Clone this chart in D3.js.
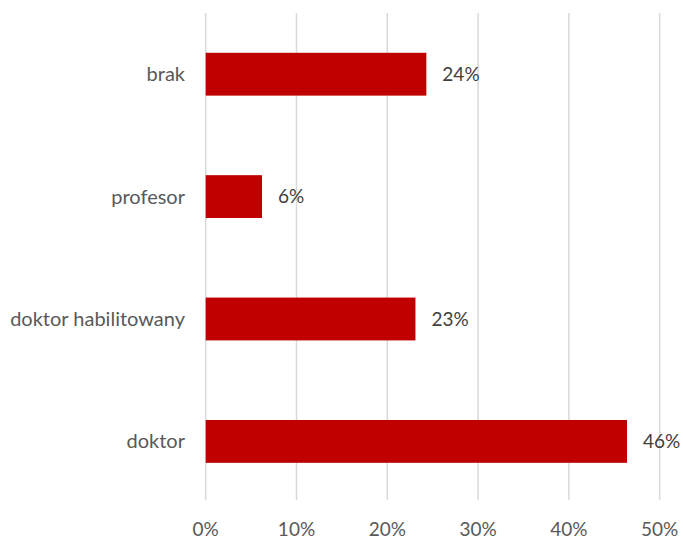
<!DOCTYPE html>
<html><head><meta charset="utf-8">
<script src="https://cdn.jsdelivr.net/npm/d3@7"></script>
<style>body{margin:0;background:#fff}svg{display:block}</style>
</head><body>
<svg id="c" width="683" height="539"></svg>
<script>
const categories = ["brak", "profesor", "doktor habilitowany", "doktor"];
const values = [0.243, 0.062, 0.231, 0.464];
const valueLabels = ["24%", "6%", "23%", "46%"];
const ticks = [0, 0.1, 0.2, 0.3, 0.4, 0.5];
const tickLabels = ["0%", "10%", "20%", "30%", "40%", "50%"];

const svg = d3.select("#c");
const font = "Lato, sans-serif";
const fs = 19;
const x = d3.scaleLinear().domain([0, 0.5]).range([205.7, 659.7]);
const y = d3.scaleBand().domain(categories).range([13, 502.6]).paddingInner(0.65).paddingOuter(0.325);

svg.append("g").selectAll("line").data(ticks).join("line")
  .attr("x1", d => x(d)).attr("x2", d => x(d))
  .attr("y1", 13).attr("y2", 500)
  .attr("stroke", "#d9d9d9").attr("stroke-width", 1.5);

svg.append("g").selectAll("rect").data(categories).join("rect")
  .attr("x", x(0)).attr("y", d => y(d))
  .attr("width", (d, i) => x(values[i]) - x(0))
  .attr("height", y.bandwidth())
  .attr("fill", "#c00000");

svg.append("g").selectAll("text").data(categories).join("text")
  .attr("x", (d, i) => x(values[i]) + 16)
  .attr("y", d => y(d) + y.bandwidth() / 2)
  .attr("dy", "0.35em")
  .attr("font-family", font).attr("font-size", fs).attr("fill", "#404040")
  .text((d, i) => valueLabels[i]);

svg.append("g").selectAll("text").data(categories).join("text")
  .attr("x", 185)
  .attr("y", d => y(d) + y.bandwidth() / 2)
  .attr("dy", "0.35em")
  .attr("text-anchor", "end")
  .attr("font-family", font).attr("font-size", 20).attr("fill", "#595959")
  .text(d => d);

svg.append("g").selectAll("text").data(ticks).join("text")
  .attr("x", d => x(d))
  .attr("y", 529)
  .attr("dy", "0.35em")
  .attr("text-anchor", "middle")
  .attr("font-family", font).attr("font-size", fs).attr("fill", "#595959")
  .text((d, i) => tickLabels[i]);
</script>
</body></html>
